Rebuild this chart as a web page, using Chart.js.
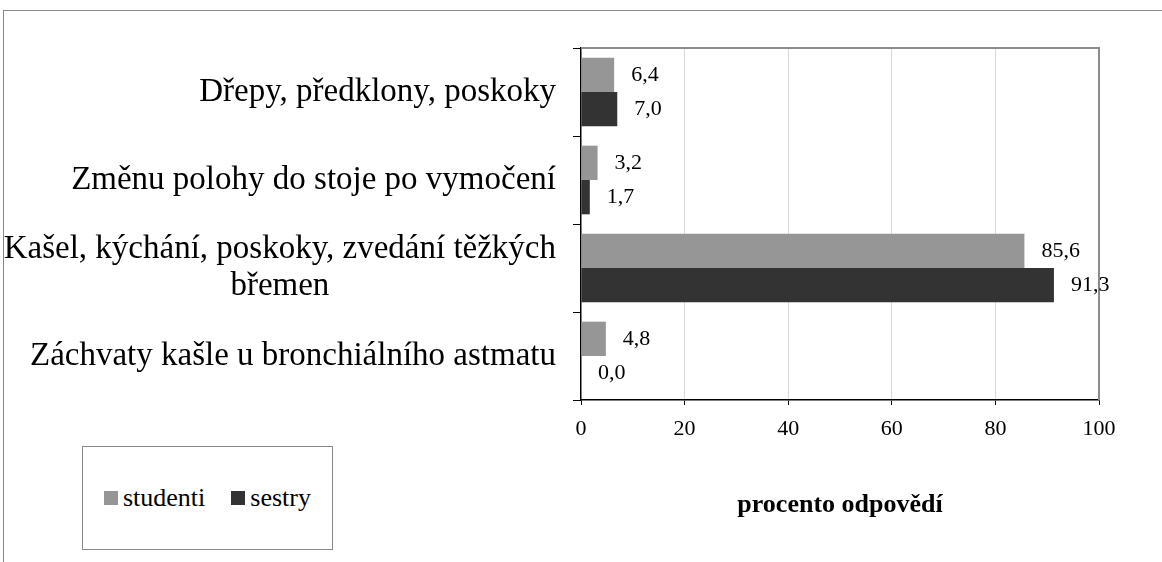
<!DOCTYPE html>
<html lang="cs">
<head>
<meta charset="UTF-8">
<title>procento odpovědí</title>
<script src="https://cdn.jsdelivr.net/npm/chart.js"></script>
<style>
  html, body { margin: 0; padding: 0; background: #fff; }
  #wrap { position: relative; width: 1162px; height: 562px; overflow: hidden; }
  #frame { position: absolute; left: 3px; top: 10px; right: -2px; bottom: -2px;
           border-top: 1px solid #888; border-left: 1px solid #888; }
  #chart { position: absolute; left: 0; top: 0; }
  #legend { position: absolute; left: 82px; top: 446px; width: 251px; height: 104px;
            box-sizing: border-box; border: 1px solid #888; background: #fff;
            display: flex; align-items: center; justify-content: center;
            font-family: "Liberation Serif", "Times New Roman", serif; font-size: 26px; color: #000; }
  #legend .item { display: flex; align-items: center; margin: 0 13px; }
  #legend .sw { width: 14px; height: 14px; margin-right: 5px; }
</style>
</head>
<body>
<div id="wrap">
  <div id="frame"></div>
  <canvas id="chart" width="1162" height="562"></canvas>
  <div id="legend"></div>
</div>
<script>
// categories (top to bottom)
const categories = [
  'Dřepy, předklony, poskoky',
  'Změnu polohy do stoje po vymočení',
  ['Kašel, kýchání, poskoky, zvedání těžkých', 'břemen'],
  'Záchvaty kašle u bronchiálního astmatu'
];
const seriesNames = ['studenti', 'sestry'];
const studenti = [6.4, 3.2, 85.6, 4.8];
const sestry = [7.0, 1.7, 91.3, 0.0];
const xTicks = [0, 20, 40, 60, 80, 100];
const xTitle = 'procento odpovědí';

const colors = ['#969696', '#333333'];
const serif = '"Liberation Serif", "Times New Roman", serif';

// category labels: block right-aligned, lines centred inside it
const catLabels = {
  id: 'catLabels',
  afterDraw(chart) {
    const sc = chart.scales.y;
    const ctx = chart.ctx;
    const right = sc.right - 8 - 17;
    const lh = 37;
    ctx.save();
    ctx.font = '33px ' + serif;
    ctx.fillStyle = '#000';
    ctx.textAlign = 'center';
    ctx.textBaseline = 'middle';
    categories.forEach((lab, i) => {
      const lines = Array.isArray(lab) ? lab : [lab];
      const w = Math.max(...lines.map(l => ctx.measureText(l).width));
      const cx = right - w / 2;
      const y0 = sc.getPixelForTick(i) - (lines.length - 1) * lh / 2;
      lines.forEach((l, k) => ctx.fillText(l, cx, y0 + k * lh));
    });
    ctx.restore();
  }
};

// value labels next to bars and the grey plot frame
const barValues = {
  id: 'barValues',
  afterDatasetsDraw(chart) {
    const ctx = chart.ctx;
    const a = chart.chartArea;
    ctx.save();
    ctx.strokeStyle = '#8c8c8c';
    ctx.lineWidth = 2;
    ctx.beginPath();
    ctx.moveTo(a.left, a.top);
    ctx.lineTo(a.right, a.top);
    ctx.lineTo(a.right, a.bottom);
    ctx.stroke();
    ctx.font = '22px ' + serif;
    ctx.fillStyle = '#000';
    ctx.textAlign = 'left';
    ctx.textBaseline = 'middle';
    chart.data.datasets.forEach((ds, di) => {
      chart.getDatasetMeta(di).data.forEach((bar, i) => {
        ctx.fillText(ds.data[i].toFixed(1).replace('.', ','), bar.x + 17, bar.y);
      });
    });
    ctx.restore();
  }
};

const chart = new Chart(document.getElementById('chart'), {
  type: 'bar',
  data: {
    labels: categories,
    datasets: [
      { label: seriesNames[0], data: studenti, backgroundColor: colors[0] },
      { label: seriesNames[1], data: sestry, backgroundColor: colors[1] }
    ]
  },
  options: {
    indexAxis: 'y',
    responsive: false,
    animation: false,
    categoryPercentage: 0.78,
    barPercentage: 1.0,
    layout: { padding: { left: 0, right: 63, top: 48, bottom: 0 } },
    plugins: { legend: { display: false }, tooltip: { enabled: false } },
    scales: {
      x: {
        min: 0, max: 100,
        afterBuildTicks: s => { s.ticks = xTicks.map(v => ({ value: v })); },
        afterFit: s => { s.height = 162; },
        ticks: { font: { family: serif, size: 22 }, color: '#000', padding: 11 },
        grid: {
          color: c => (c.tick && (c.tick.value === 0 || c.tick.value === 100)) ? 'rgba(0,0,0,0)' : '#d9d9d9',
          tickColor: '#000', tickLength: 5, lineWidth: 1
        },
        border: { color: '#000', width: 1.5 },
        title: { display: true, text: xTitle, color: '#000',
                 font: { family: serif, size: 26, weight: 'bold' }, padding: { top: 30, bottom: 41 } }
      },
      y: {
        afterFit: s => { s.width = 581; },
        ticks: { font: { family: serif, size: 30 }, color: 'rgba(0,0,0,0)', padding: 17 },
        grid: { offset: true, drawOnChartArea: false, tickColor: '#000', tickLength: 8 },
        border: { color: '#000', width: 1.5 }
      }
    }
  },
  plugins: [catLabels, barValues]
});

// legend built from the datasets
const leg = document.getElementById('legend');
chart.data.datasets.forEach(ds => {
  const it = document.createElement('div');
  it.className = 'item';
  it.innerHTML = '<span class="sw" style="background:' + ds.backgroundColor + '"></span><span>' + ds.label + '</span>';
  leg.appendChild(it);
});
</script>
</body>
</html>
